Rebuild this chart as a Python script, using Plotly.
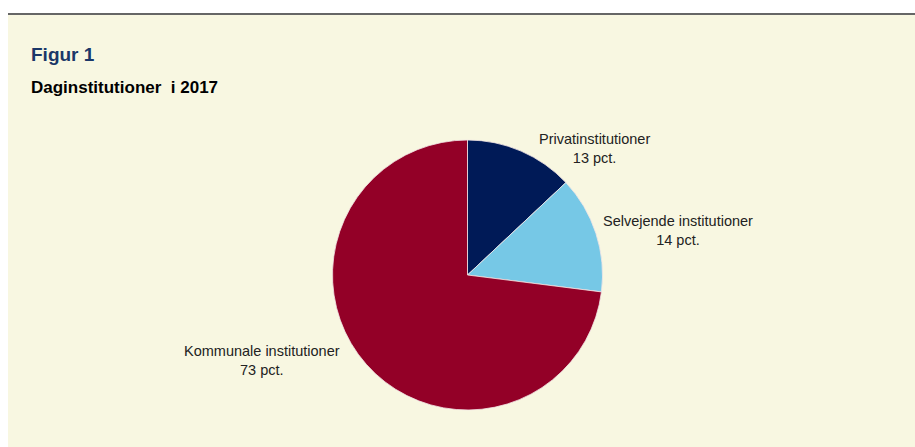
import plotly.graph_objects as go

categories = ["Privatinstitutioner", "Selvejende institutioner", "Kommunale institutioner"]
values = [13, 14, 73]
colors = ["#001A57", "#76C8E6", "#930027"]

W, H = 915, 447

def px(x):
    return x / W

def py(y):
    return 1 - y / H

cx, cy, r = 467.5, 275, 135

fig = go.Figure()
fig.add_trace(go.Pie(
    labels=categories,
    values=values,
    sort=False,
    direction="clockwise",
    rotation=0,
    marker=dict(colors=colors, line=dict(color="#F3E6E6", width=0.8)),
    textinfo="none",
    hoverinfo="label+percent",
    showlegend=False,
    domain=dict(x=[px(cx - r), px(cx + r)], y=[py(cy + r), py(cy - r)]),
))

label_pos = [(594, 149), (677.5, 230), (262, 360.5)]
annotations = []
for cat, val, (lx, ly) in zip(categories, values, label_pos):
    annotations.append(dict(
        x=px(lx), y=py(ly), xref="paper", yref="paper",
        text=f"{cat}<br>{val} pct.", showarrow=False, align="center",
        xanchor="center", yanchor="middle",
        font=dict(family="Liberation Sans, Arial", size=14.5, color="#222222"),
    ))

annotations.append(dict(
    x=px(29), y=py(54), xref="paper", yref="paper", text="<b>Figur 1</b>",
    showarrow=False, xanchor="left", yanchor="middle",
    font=dict(family="Liberation Sans, Arial", size=19, color="#1B3768"),
))
annotations.append(dict(
    x=px(29), y=py(87), xref="paper", yref="paper", text="<b>Daginstitutioner  i 2017</b>",
    showarrow=False, xanchor="left", yanchor="middle",
    font=dict(family="Liberation Sans, Arial", size=17, color="#000000"),
))

shapes = [
    dict(type="rect", xref="paper", yref="paper", x0=px(8), x1=1, y0=0, y1=py(14),
         fillcolor="#F8F7E1", line=dict(width=0), layer="below"),
    dict(type="line", xref="paper", yref="paper", x0=px(8), x1=1, y0=py(14), y1=py(14),
         line=dict(color="#666666", width=2)),
]

fig.update_layout(
    width=W, height=H,
    margin=dict(l=0, r=0, t=0, b=0),
    paper_bgcolor="#FFFFFF",
    plot_bgcolor="#FFFFFF",
    annotations=annotations,
    shapes=shapes,
)

fig.write_html(
    "out.html",
    config={"displayModeBar": False},
    post_script="document.body.style.margin='0';document.body.style.overflow='hidden';",
)
